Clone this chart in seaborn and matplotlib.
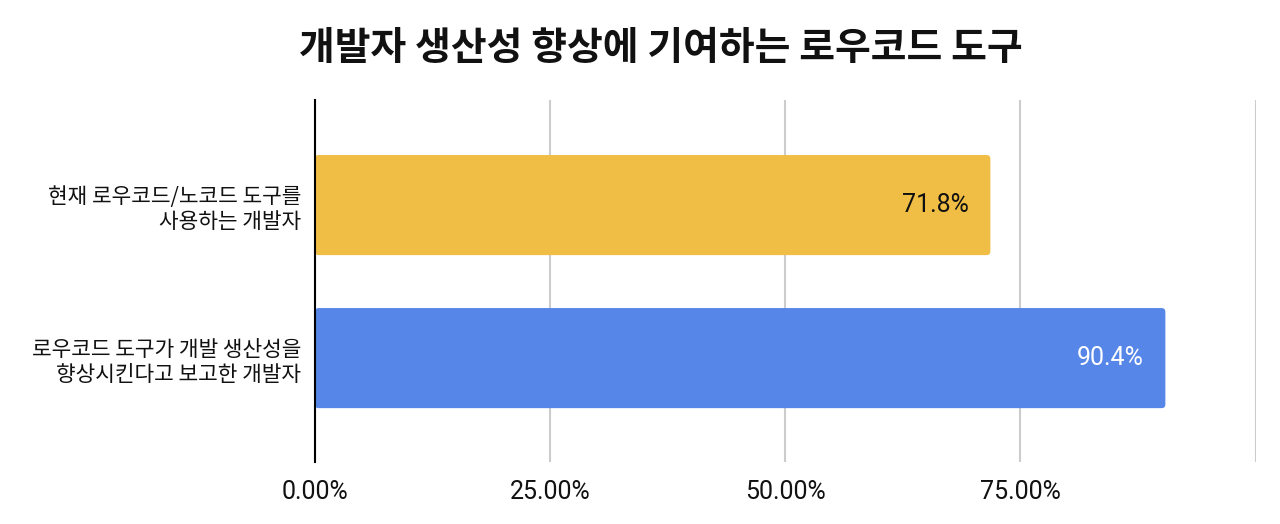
import matplotlib
matplotlib.use("Agg")
import matplotlib.pyplot as plt
from matplotlib.patches import FancyBboxPatch
import seaborn as sns
import pandas as pd

# 데이터
categories = ["현재 로우코드/노코드 도구를\n사용하는 개발자",
              "로우코드 도구가 개발 생산성을\n향상시킨다고 보고한 개발자"]
values = [71.8, 90.4]
bar_colors = ["#F0BE44", "#5586E8"]
label_colors = ["#111111", "#FFFFFF"]
tick_values = [0, 25, 50, 75, 100]
tick_labels = ["0.00%", "25.00%", "50.00%", "75.00%", ""]

sns.set_theme(style="white")
plt.rcParams['font.family'] = ['Noto Sans CJK KR', 'DejaVu Sans']

df = pd.DataFrame({"category": categories, "value": values})

fig = plt.figure(figsize=(12.8, 5.24), dpi=100)
ax = fig.add_axes([0.246, 0.118, 0.735, 0.691])

sns.barplot(data=df, x="value", y="category", hue="category",
            palette=bar_colors, saturation=1, orient="h", width=0.654,
            legend=False, ax=ax, zorder=3)

# 모서리 둥글게
for p in list(ax.patches):
    x0, y0, w, h = p.get_x(), p.get_y(), p.get_width(), p.get_height()
    fc = p.get_facecolor()
    p.remove()
    ax.add_patch(FancyBboxPatch((x0, y0), w, h,
                                boxstyle="round,pad=0,rounding_size=0.4",
                                mutation_aspect=0.065, facecolor=fc,
                                edgecolor="none", zorder=3))

ax.set_xlim(0, 100)
ax.set_ylim(1.68, -0.686)
ax.set_xticks(tick_values)
ax.set_xticklabels(tick_labels, family=['Roboto', 'DejaVu Sans'], fontsize=18, color="#111111")
ax.tick_params(axis='x', length=0, pad=13)
ax.tick_params(axis='y', length=0, pad=10, labelsize=15.4, labelcolor="#111111")
ax.set_xlabel("")
ax.set_ylabel("")

ax.grid(axis='x', color="#CCCCCC", linewidth=1.5, zorder=0)
ax.grid(axis='y', visible=False)
for s in ["top", "right", "bottom"]:
    ax.spines[s].set_visible(False)
ax.spines["left"].set_color("#000000")
ax.spines["left"].set_linewidth(1.5)
ax.spines["left"].set_zorder(4)

# 막대 라벨
for i, (v, c) in enumerate(zip(values, label_colors)):
    ax.text(v - 2.3, i, f"{v:.1f}%", ha="right", va="center",
            fontsize=18, color=c, family=['Roboto', 'DejaVu Sans'], zorder=5)

fig.suptitle("개발자 생산성 향상에 기여하는 로우코드 도구", x=0.516, y=0.945,
             fontsize=28, fontweight="bold", color="#111111")

fig.savefig("out.png", dpi=100)
